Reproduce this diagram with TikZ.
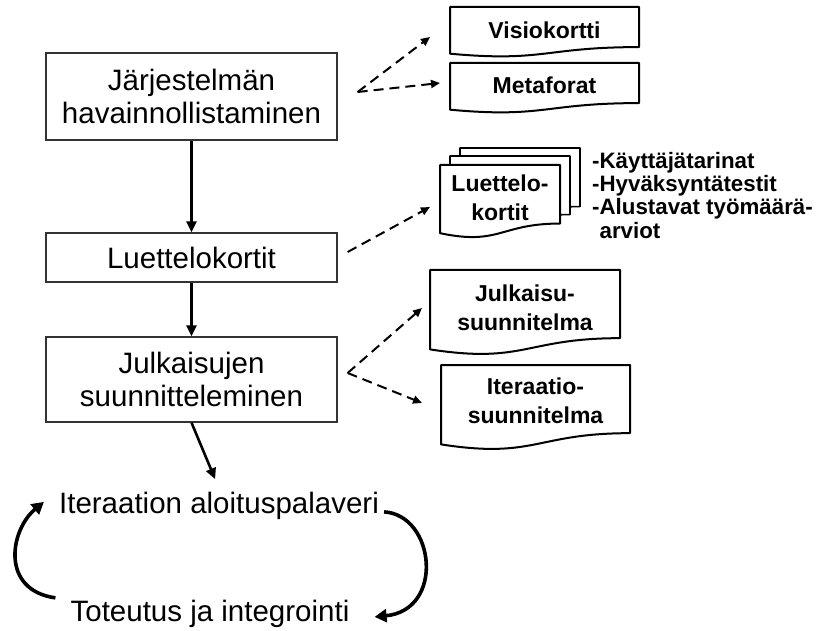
\documentclass[tikz,border=0pt]{standalone}
\usepackage{fontspec}
\setmainfont{Liberation Sans}
\usetikzlibrary{arrows.meta,calc,backgrounds}

\begin{document}
\begin{tikzpicture}[
    x=1pt, y=1pt,
    stepbox/.style={draw=black!80, line width=1.3pt, minimum width=291pt, inner sep=0pt, align=center, font=\fontsize{29.5}{32.5}\selectfont},
    phase/.style={font=\fontsize{29.5}{32.5}\selectfont, inner sep=3pt, anchor=base},
    docnode/.style={inner sep=0pt, outer sep=0pt, anchor=north, align=center, font=\bfseries\fontsize{23}{29}\selectfont},
    docline/.style={draw=black, line width=2pt, fill=white, line join=round},
    docout/.style 2 args={insert path={(#1.north west) -- (#1.north east) -- ([yshift=-0.802*#2]#1.north east) .. controls ([yshift=-0.802*#2]#1.north) and ([yshift=-1.107*#2]#1.north) .. ([yshift=-0.934*#2]#1.north west) -- cycle}},
    flow/.style={line width=2.6pt, -{Triangle[length=11pt,width=10pt]}},
    dasharrow/.style={line width=2pt, dash pattern=on 10pt off 6pt, -{Triangle[length=9pt,width=8pt]}},
    cycarrow/.style={line width=3.6pt, -{Triangle[length=12pt,width=13pt]}},
  ]
  \useasboundingbox (0,0) rectangle (828,-631);

  % Main steps
  \node[stepbox, minimum height=87pt] (b1) at (191.5,-96.5) {Järjestelmän\\havainnollistaminen};
  \node[stepbox, minimum height=49pt] (b2) at (191.5,-257.5) {Luettelokortit};
  \node[stepbox, minimum height=85pt] (b3) at (191.5,-379.5) {Julkaisujen\\suunnitteleminen};

  \draw[flow] (b1) -- (b2);
  \draw[flow] (b2) -- (b3);

  % Iteration cycle
  \node[phase] (it1) at (219,-513) {Iteraation aloituspalaveri};
  \node[phase] (it2) at (210,-621) {Toteutus ja integrointi};

  \draw[flow, shorten >=10pt] (b3.south) -- (it1.north);
  \draw[cycarrow] ([shift={(-12,15.5)}]it2.west) .. controls (0,-590) and (10,-530) .. ([shift={(-12,3.5)}]it1.west);
  \draw[cycarrow] ([shift={(2,-6.5)}]it1.east) .. controls (435,-515) and (445,-610) .. ([shift={(22,-3.5)}]it2.east);

  % Documents
  \node[docnode, minimum width=189pt, minimum height=46pt] (visio) at (544.5,-7) {Visiokortti};
  \node[docnode, minimum width=189pt, minimum height=44pt] (meta) at (544.5,-63) {Metaforat};
  \node[docnode, minimum width=120pt, minimum height=65pt] (lk3) at (520,-148) {};
  \node[docnode, minimum width=120pt, minimum height=65pt] (lk2) at (510,-156) {};
  \node[docnode, minimum width=120pt, minimum height=65pt] (lk1) at (500,-165) {Luettelo-\\kortit};
  \node[docnode, minimum width=190pt, minimum height=75pt] (julk) at (525,-270) {Julkaisu-\\suunnitelma};
  \node[docnode, minimum width=189pt, minimum height=71pt] (iter) at (535.5,-365) {Iteraatio-\\suunnitelma};

  \node[font=\bfseries\fontsize{22.3}{23.3}\selectfont, align=left, anchor=north west, inner sep=0pt] (notes) at (592,-152)
    {-Käyttäjätarinat\\-Hyväksyntätestit\\-Alustavat työmäärä-\\\phantom{-}arviot};

  \begin{pgfonlayer}{background}
    \draw[docline, line width=1.6pt] [docout={lk3}{73}];
    \draw[docline, line width=1.6pt] [docout={lk2}{73}];
    \foreach \d/\h in {visio/50, meta/50, lk1/73, julk/85, iter/85}
      \draw[docline] [docout={\d}{\h}];
  \end{pgfonlayer}

  % Dashed links
  \coordinate (v1) at ([shift={(20,4.5)}]b1.east);
  \coordinate (v3) at ([shift={(10,6.5)}]b3.east);
  \draw[dasharrow] (v1) -- ([shift={(-20,-7)}]visio.west);
  \draw[dasharrow] (v1) -- ([shift={(-10,2)}]meta.west);
  \draw[dasharrow] ([shift={(10,5.5)}]b2.east) -- ([shift={(-10,-9.5)}]lk1.west);
  \draw[dasharrow] (v3) -- ([shift={(-8,-0.5)}]julk.west);
  \draw[dasharrow] (v3) -- ([shift={(-19,-2.5)}]iter.west);
\end{tikzpicture}
\end{document}
